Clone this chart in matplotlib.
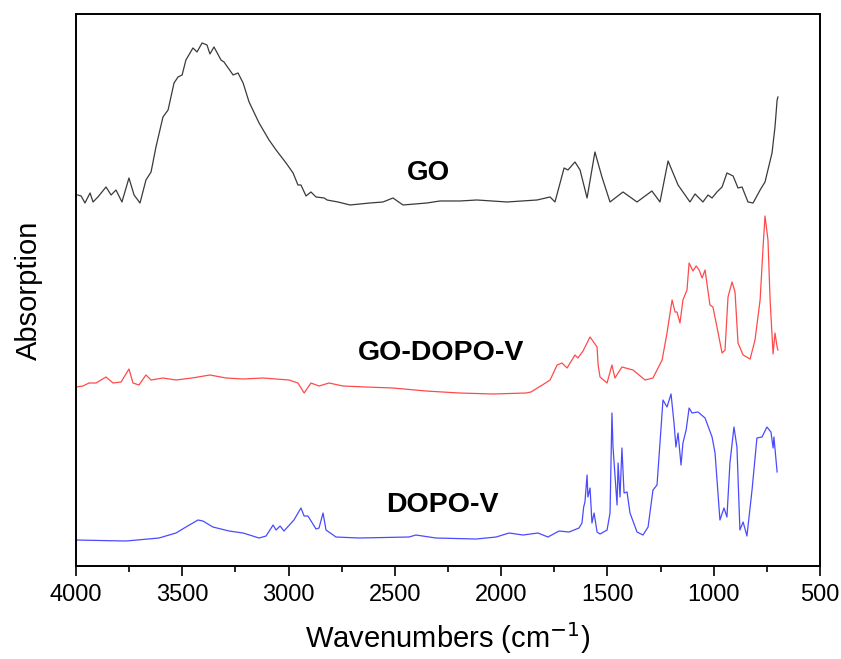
import matplotlib
matplotlib.use("Agg")
import matplotlib.pyplot as plt
from matplotlib.ticker import MultipleLocator

plt.rcParams['font.family'] = ['Liberation Sans', 'DejaVu Sans']

# GO spectrum (wavenumber, absorption a.u.)
go_wn = [3992, 3976, 3958, 3934, 3920, 3897, 3859, 3835, 3812, 3784, 3751, 3727, 3699,
         3671, 3647, 3624, 3591, 3567, 3539, 3520, 3501, 3483, 3450, 3431, 3407, 3384,
         3370, 3351, 3318, 3304, 3261, 3238, 3214, 3186, 3139, 3092, 3059, 3012, 2979,
         2956, 2942, 2918, 2895, 2871, 2833, 2819, 2768, 2711, 2617, 2556, 2509, 2462,
         2349, 2288, 2194, 2114, 1973, 1831, 1770, 1747, 1704, 1686, 1653, 1629, 1596,
         1559, 1526, 1488, 1427, 1361, 1291, 1253, 1215, 1168, 1112, 1088, 1051, 1027,
         1008, 985, 961, 938, 909, 886, 867, 839, 815, 782, 759, 726, 712, 702, 698]
go_abs = [371, 370, 363, 373, 364, 369, 379, 371, 376, 364, 388, 371, 363,
          386, 394, 419, 449, 456, 483, 489, 491, 506, 518, 514, 523, 521,
          512, 519, 506, 504, 491, 493, 483, 464, 443, 426, 416, 403, 393,
          381, 381, 370, 374, 369, 368, 366, 364, 361, 363, 364, 368, 361,
          363, 365, 365, 366, 364, 366, 369, 364, 398, 396, 404, 396, 368,
          414, 389, 364, 374, 364, 375, 364, 405, 381, 364, 372, 364, 371,
          368, 374, 379, 393, 390, 378, 379, 364, 363, 376, 384, 413, 439, 466, 469]

# GO-DOPO-V spectrum
gd_wn = [4000, 3967, 3939, 3906, 3859, 3826, 3788, 3751, 3732, 3704, 3671, 3647, 3591,
         3530, 3454, 3370, 3294, 3214, 3120, 2998, 2956, 2927, 2895, 2857, 2810, 2744,
         2636, 2509, 2354, 2198, 2038, 1883, 1860, 1822, 1799, 1770, 1737, 1714, 1690,
         1653, 1639, 1615, 1582, 1549, 1544, 1535, 1502, 1479, 1465, 1432, 1380, 1323,
         1286, 1262, 1243, 1220, 1196, 1182, 1173, 1159, 1145, 1126, 1116, 1098, 1083,
         1069, 1055, 1041, 1018, 1004, 985, 961, 947, 933, 914, 900, 886, 862, 829,
         806, 782, 768, 759, 745, 735, 721, 712, 702, 698]
gd_abs = [179, 180, 183, 183, 189, 183, 184, 197, 183, 181, 191, 186, 188,
          186, 188, 191, 188, 187, 188, 186, 183, 173, 183, 180, 183, 180,
          179, 178, 175, 173, 172, 173, 174, 179, 182, 186, 201, 203, 198,
          211, 208, 215, 229, 219, 201, 189, 183, 201, 188, 199, 196, 186,
          188, 198, 206, 233, 266, 254, 254, 243, 266, 276, 303, 295, 300,
          296, 288, 296, 261, 259, 239, 213, 216, 269, 284, 274, 223, 211, 207,
          226, 266, 319, 350, 326, 266, 212, 233, 219, 216]

# DOPO-V spectrum
dv_wn = [4000, 3765, 3610, 3530, 3483, 3426, 3403, 3356, 3280, 3214, 3139, 3106, 3073,
         3059, 3040, 3022, 2975, 2942, 2927, 2909, 2871, 2857, 2838, 2824, 2777, 2669,
         2434, 2401, 2307, 2118, 2024, 1963, 1897, 1827, 1780, 1728, 1681, 1634, 1620,
         1612, 1606, 1596, 1592, 1582, 1573, 1563, 1549, 1535, 1502, 1488, 1479, 1474,
         1455, 1450, 1441, 1432, 1422, 1408, 1394, 1361, 1333, 1309, 1286, 1267, 1253,
         1239, 1220, 1201, 1187, 1178, 1168, 1154, 1145, 1130, 1116, 1102, 1074, 1041,
         1008, 994, 971, 952, 938, 924, 905, 891, 877, 862, 844, 820, 797, 773, 750,
         731, 721, 717, 702]
dv_abs = [26, 25, 28, 33, 39, 46, 45, 39, 35, 33, 28, 30, 41,
          36, 40, 35, 46, 58, 50, 50, 37, 38, 53, 36, 29, 28,
          29, 31, 28, 27, 29, 33, 31, 33, 29, 35, 34, 38, 43,
          59, 64, 91, 69, 78, 43, 53, 34, 32, 36, 53, 153, 119,
          61, 103, 69, 118, 73, 74, 53, 34, 31, 39, 76, 81, 123,
          166, 159, 172, 143, 119, 133, 101, 123, 136, 158, 153, 154, 148,
          129, 113, 46, 58, 49, 103, 139, 119, 36, 44, 30, 76, 128, 129, 139,
          134, 118, 129, 94]

fig = plt.figure(figsize=(8.41, 6.59), dpi=100)
ax = fig.add_axes([0.0904, 0.1411, 0.8847, 0.8377])

ax.plot(go_wn, go_abs, color="#3a3a3a", lw=0.9)
ax.plot(gd_wn, gd_abs, color="#ff4a4a", lw=0.9)
ax.plot(dv_wn, dv_abs, color="#4a4aff", lw=0.9)

ax.text(2344, 393, "GO", fontsize=20, fontweight="bold", ha="center", va="center")
ax.text(2283, 213, "GO-DOPO-V", fontsize=20.5, fontweight="bold", ha="center", va="center")
ax.text(2278, 61, "DOPO-V", fontsize=20.5, fontweight="bold", ha="center", va="center")

ax.set_xlim(4000, 500)
ax.set_ylim(0, 552)
ax.xaxis.set_major_locator(MultipleLocator(500))
ax.xaxis.set_minor_locator(MultipleLocator(250))
ax.set_yticks([])
ax.tick_params(axis="x", which="major", direction="out", length=7, width=1.2, labelsize=17, pad=6)
ax.tick_params(axis="x", which="minor", direction="out", length=4, width=1.2)
for s in ax.spines.values():
    s.set_linewidth(1.4)

ax.set_xlabel("Wavenumbers (cm$^{-1}$)", fontsize=21, labelpad=10)
ax.set_ylabel("Absorption", fontsize=21, labelpad=24)

fig.savefig("out.png", dpi=100)
